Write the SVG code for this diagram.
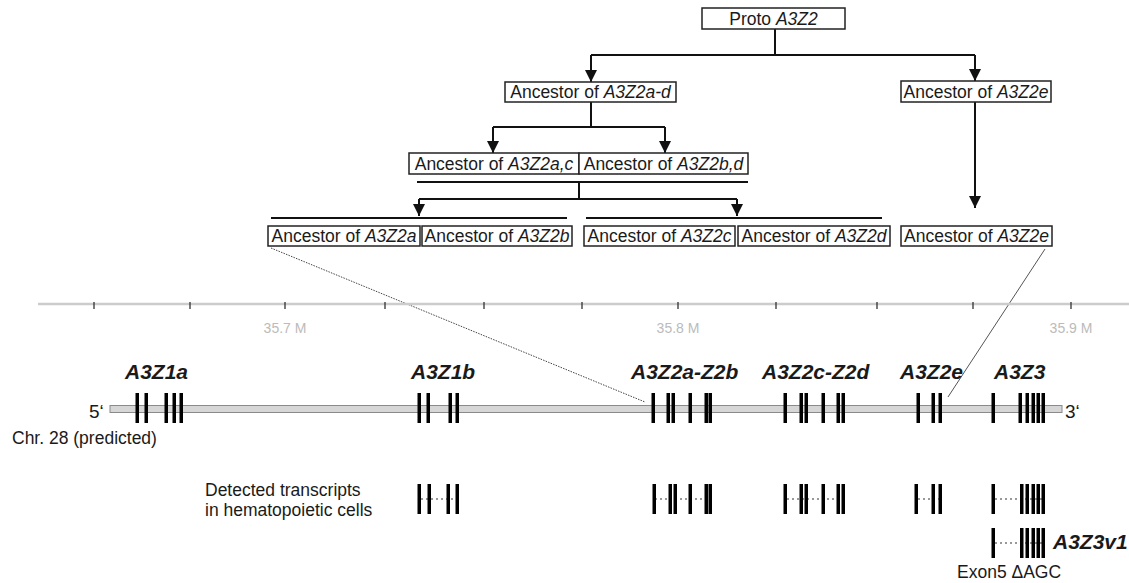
<svg xmlns="http://www.w3.org/2000/svg" width="1129" height="583" viewBox="0 0 1129 583">
<style>
text{font-family:"Liberation Sans",Arial,sans-serif;fill:#1a1a1a}
.box{fill:#fff;stroke:#222;stroke-width:1.5}
.bt{font-size:17.5px;text-anchor:middle}
.it{font-style:italic}
.ln{stroke:#111;stroke-width:2;fill:none}
.arr{stroke:#111;stroke-width:2;fill:none;marker-end:url(#ah)}
.gene{font-size:21px;font-weight:bold;font-style:italic}
.lab{font-size:17.5px}
.ax{font-size:14px;fill:#bbb;text-anchor:middle}
.tick{stroke:#333;stroke-width:1.3}
.ex{fill:#000}
.dot{stroke:#999;stroke-width:2;stroke-dasharray:2 3}
</style>
<defs>
<marker id="ah" markerUnits="userSpaceOnUse" markerWidth="12" markerHeight="12" refX="10" refY="5" orient="auto" viewBox="0 0 10 10">
<path d="M0,0 L10,5 L0,10 z" fill="#111"/>
</marker>
<rect id="e" width="3.5" height="30" class="ex"/>
</defs>
<rect width="1129" height="583" fill="#fff"/>

<g id="connectors">
<path class="ln" d="M775,29 V55 M591,55 H975"/>
<line class="arr" x1="591" y1="55" x2="591" y2="82"/>
<line class="arr" x1="975" y1="55" x2="975" y2="81"/>
<path class="ln" d="M591,102 V127 M493,127 H665"/>
<line class="arr" x1="493" y1="127" x2="493" y2="153"/>
<line class="arr" x1="665" y1="127" x2="665" y2="153"/>
<path class="ln" d="M417,182 H748 M579,182 V199 M419,199 H737"/>
<line class="arr" x1="419" y1="199" x2="419" y2="216"/>
<line class="arr" x1="737" y1="199" x2="737" y2="216"/>
<path class="ln" d="M271,218 H567 M586,218 H882"/>
<line class="arr" x1="975" y1="102" x2="975" y2="208"/>
<line x1="271" y1="248" x2="645" y2="402" stroke="#444" stroke-width="1" stroke-dasharray="1.5 1.2"/>
<line x1="1045" y1="249" x2="948" y2="397" stroke="#555" stroke-width="1"/>
</g>

<g id="proto">
<rect class="box" x="702" y="8" width="143" height="21"/>
<text class="bt" x="773.5" y="25">Proto <tspan class="it">A3Z2</tspan></text>
</g>
<g id="anc-a-d">
<rect class="box" x="505" y="82" width="171" height="20"/>
<text class="bt" x="590.5" y="98">Ancestor of <tspan class="it">A3Z2a-d</tspan></text>
</g>
<g id="anc-e-top">
<rect class="box" x="901" y="81" width="150" height="21"/>
<text class="bt" x="976" y="97.5">Ancestor of <tspan class="it">A3Z2e</tspan></text>
</g>
<g id="anc-ac">
<rect class="box" x="409" y="153" width="170" height="21"/>
<text class="bt" x="494" y="169.5">Ancestor of <tspan class="it">A3Z2a,c</tspan></text>
</g>
<g id="anc-bd">
<rect class="box" x="579" y="153" width="169" height="21"/>
<text class="bt" x="663.5" y="169.5">Ancestor of <tspan class="it">A3Z2b,d</tspan></text>
</g>
<g id="anc-a">
<rect class="box" x="268" y="226" width="152" height="20"/>
<text class="bt" x="344" y="242">Ancestor of <tspan class="it">A3Z2a</tspan></text>
</g>
<g id="anc-b">
<rect class="box" x="422" y="226" width="150" height="20"/>
<text class="bt" x="497" y="242">Ancestor of <tspan class="it">A3Z2b</tspan></text>
</g>
<g id="anc-c">
<rect class="box" x="584" y="226" width="151" height="20"/>
<text class="bt" x="659.5" y="242">Ancestor of <tspan class="it">A3Z2c</tspan></text>
</g>
<g id="anc-d">
<rect class="box" x="738" y="226" width="152" height="20"/>
<text class="bt" x="814" y="242">Ancestor of <tspan class="it">A3Z2d</tspan></text>
</g>
<g id="anc-e">
<rect class="box" x="901" y="226" width="151" height="20"/>
<text class="bt" x="976.5" y="242">Ancestor of <tspan class="it">A3Z2e</tspan></text>
</g>

<g id="axis">
<line x1="38" y1="304" x2="1129" y2="304" stroke="#ccc" stroke-width="2.5"/>
<path class="tick" d="M94,302V309 M190,302V309 M285,302V309 M385,302V309 M484,302V309 M582,302V309 M678,302V309 M776,302V309 M877,302V309 M973,302V309 M1071,302V309"/>
<text class="ax" x="285" y="333">35.7 M</text>
<text class="ax" x="678" y="333">35.8 M</text>
<text class="ax" x="1071" y="333">35.9 M</text>
</g>

<g id="chromosome">
<rect x="110" y="405.5" width="952" height="7" fill="#d6d6d6" stroke="#8a8a8a" stroke-width="1"/>
<text x="89" y="418" font-size="19px">5‘</text>
<text x="1065" y="418" font-size="19px">3‘</text>
<text class="lab" x="12" y="444">Chr. 28 (predicted)</text>
<g transform="translate(0,393)">
<use href="#e" x="135.5"/><use href="#e" x="144.5"/><use href="#e" x="164.5"/><use href="#e" x="172.5"/><use href="#e" x="179.5"/>
<use href="#e" x="417.5"/><use href="#e" x="426.5"/><use href="#e" x="448.5"/><use href="#e" x="455.5"/>
<use href="#e" x="651.5"/><use href="#e" x="666.5"/><use href="#e" x="671.5"/><use href="#e" x="688.5"/><use href="#e" x="704.5"/><use href="#e" x="708.5"/>
<use href="#e" x="783.5"/><use href="#e" x="799.5"/><use href="#e" x="804.5"/><use href="#e" x="821.5"/><use href="#e" x="836.5"/><use href="#e" x="841.5"/>
<use href="#e" x="916.5"/><use href="#e" x="931.5"/><use href="#e" x="938.5"/>
<use href="#e" x="991.5"/><use href="#e" x="1018.5"/><use href="#e" x="1025.5"/><use href="#e" x="1031.5"/><use href="#e" x="1036.5"/><use href="#e" x="1041.5"/>
</g>
</g>

<g id="gene-labels">
<text class="gene" x="125" y="379">A3Z1a</text>
<text class="gene" x="411" y="379">A3Z1b</text>
<text class="gene" x="631" y="379">A3Z2a-Z2b</text>
<text class="gene" x="762" y="379">A3Z2c-Z2d</text>
<text class="gene" x="900" y="379">A3Z2e</text>
<text class="gene" x="994" y="379">A3Z3</text>
</g>

<g id="transcripts">
<text class="lab" x="205" y="496" font-size="17px">Detected transcripts</text>
<text class="lab" x="205" y="516" font-size="17px">in hematopoietic cells</text>
<path class="dot" d="M421,499 H457 M655,499 H710 M787,499 H843 M918,499 H940 M995,499 H1043 M995,543 H1043"/>
<g transform="translate(0,484)">
<use href="#e" x="417.5"/><use href="#e" x="427.5"/><use href="#e" x="446.5"/><use href="#e" x="455.5"/>
<use href="#e" x="652.5"/><use href="#e" x="668.5"/><use href="#e" x="673.5"/><use href="#e" x="688.5"/><use href="#e" x="704.5"/><use href="#e" x="708.5"/>
<use href="#e" x="783.5"/><use href="#e" x="799.5"/><use href="#e" x="804.5"/><use href="#e" x="821.5"/><use href="#e" x="836.5"/><use href="#e" x="841.5"/>
<use href="#e" x="914.5"/><use href="#e" x="931.5"/><use href="#e" x="938.5"/>
<use href="#e" x="991.5"/><use href="#e" x="1020"/><use href="#e" x="1025.5"/><use href="#e" x="1031.5"/><use href="#e" x="1036.5"/><use href="#e" x="1041.5"/>
</g>
<g transform="translate(0,528)">
<use href="#e" x="991.5"/><use href="#e" x="1020"/><use href="#e" x="1025.5"/><use href="#e" x="1031.5"/><use href="#e" x="1036.5"/><use href="#e" x="1041.5"/>
</g>
<text class="gene" x="1053" y="549">A3Z3v1</text>
<text class="lab" x="957" y="578" font-size="19px">Exon5 ΔAGC</text>
</g>
</svg>
